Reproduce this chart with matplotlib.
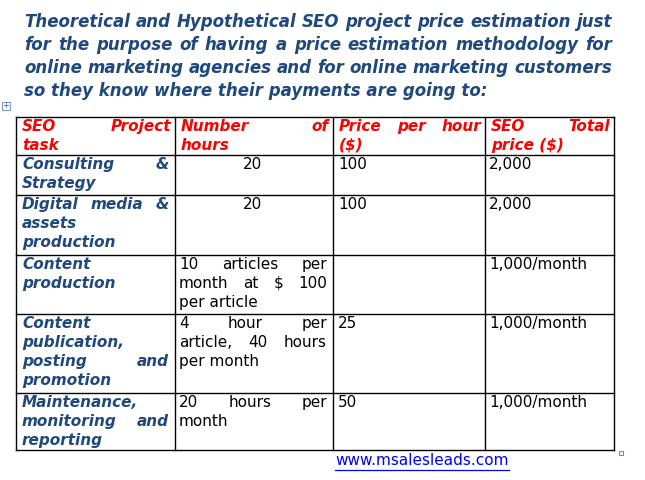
import matplotlib
matplotlib.use("Agg")
import matplotlib.pyplot as plt
from matplotlib.patches import Rectangle

title_lines = [
    ("Theoretical and Hypothetical SEO project price estimation just", True),
    ("for the purpose of having a price estimation methodology for", True),
    ("online marketing agencies and for online marketing customers", True),
    ("so they know where their payments are going to:", False),
]
headers = [
    [("SEO Project", True), ("task", False)],
    [("Number of", True), ("hours", False)],
    [("Price per hour", True), ("($)", False)],
    [("SEO Total", True), ("price ($)", False)],
]
tasks = [
    [("Consulting &", True), ("Strategy", False)],
    [("Digital media &", True), ("assets", False), ("production", False)],
    [("Content", False), ("production", False)],
    [("Content", False), ("publication,", False), ("posting and", True), ("promotion", False)],
    [("Maintenance,", False), ("monitoring and", True), ("reporting", False)],
]
hours = [
    [("20", None)],
    [("20", None)],
    [("10 articles per", True), ("month at $ 100", True), ("per article", False)],
    [("4 hour per", True), ("article, 40 hours", True), ("per month", False)],
    [("20 hours per", True), ("month", False)],
]
price_hour = ["100", "100", "", "25", "50"]
total_price = ["2,000", "2,000", "1,000/month", "1,000/month", "1,000/month"]
url = "www.msalesleads.com"

W, H = 645, 480
fig = plt.figure(figsize=(6.45, 4.8), dpi=100)
ax = fig.add_axes([0, 0, 1, 1])
ax.set_xlim(0, W); ax.set_ylim(H, 0); ax.axis("off")
r = fig.canvas.get_renderer()

def wwidth(s, **kw):
    t = ax.text(0, 0, s, **kw)
    bb = t.get_window_extent(r)
    t.remove()
    return bb.width

def line(s, x0, x1, y, justify, **kw):
    if justify is None:
        ax.text((x0 + x1) / 2, y, s, ha="center", va="top", **kw); return
    words = s.split()
    if not justify or len(words) < 2:
        ax.text(x0, y, s, ha="left", va="top", **kw); return
    ws = [wwidth(w, **kw) for w in words]
    gap = (x1 - x0 - sum(ws)) / (len(words) - 1)
    x = x0
    for w, wd in zip(words, ws):
        ax.text(x, y, w, ha="left", va="top", **kw)
        x += wd + gap

blue = "#1f497d"
tkw = dict(fontsize=12, fontweight="bold", fontstyle="italic", color=blue, family="DejaVu Sans")
for i, (s, j) in enumerate(title_lines):
    line(s, 24, 612, 13 + i * 23, j, **tkw)

cols = [16, 175, 333, 485, 614]
rows = [117, 155, 195, 255, 314, 393, 450]
for x in cols:
    ax.plot([x, x], [rows[0], rows[-1]], color="black", lw=1)
for y in rows:
    ax.plot([cols[0], cols[-1]], [y, y], color="black", lw=1)

lh = 19
hkw = dict(fontsize=11, fontweight="bold", fontstyle="italic", color="red", family="DejaVu Sans")
for c, cell in enumerate(headers):
    for k, (s, j) in enumerate(cell):
        line(s, cols[c] + 6, cols[c + 1] - 4, rows[0] + 2 + k * lh, j, **hkw)

fkw = dict(fontsize=11, fontweight="bold", fontstyle="italic", color=blue, family="DejaVu Sans")
nkw = dict(fontsize=11, color="black", family="DejaVu Sans")
for i in range(5):
    y0 = rows[i + 1] + 2
    for k, (s, j) in enumerate(tasks[i]):
        line(s, cols[0] + 6, cols[1] - 6, y0 + k * lh, j, **fkw)
    for k, (s, j) in enumerate(hours[i]):
        line(s, cols[1] + 4, cols[2] - 6, y0 + k * lh, j, **nkw)
    line(price_hour[i], cols[2] + 5, cols[3], y0, False, **nkw)
    line(total_price[i], cols[3] + 4, cols[4], y0, False, **nkw)

ax.add_patch(Rectangle((2, 102), 8, 8, fill=False, ec="#7f9db9", lw=0.8))
ax.text(6, 106, "+", ha="center", va="center", fontsize=6, color="#3060a0")
ax.add_patch(Rectangle((619, 451), 4, 4, fill=False, ec="#888888", lw=0.8))

t = ax.text(335, 453, url, ha="left", va="top", fontsize=11, color="#0000ff", family="DejaVu Sans")
uw = wwidth(url, fontsize=11, family="DejaVu Sans")
ax.plot([335, 335 + uw], [470, 470], color="#0000ff", lw=0.9)

fig.savefig("out.png", dpi=100)
